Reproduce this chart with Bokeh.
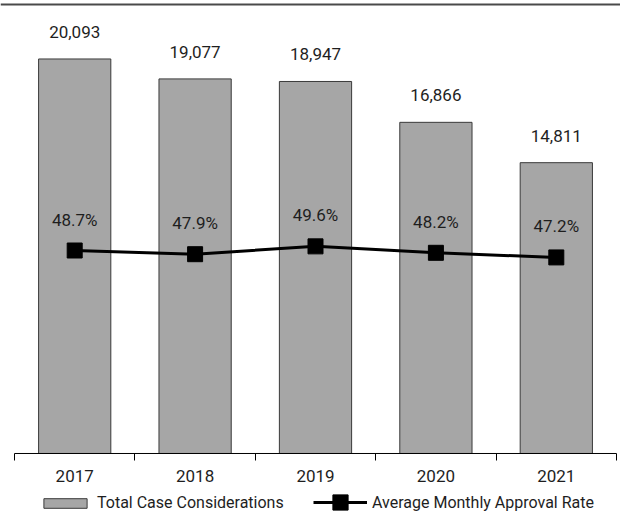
from bokeh.plotting import figure
from bokeh.models import (Range1d, LinearAxis, FixedTicker, Span, Legend, LegendItem,
                          ColumnDataSource)
from bokeh.core.properties import value
from bokeh.embed import file_html
from bokeh.resources import INLINE

years = ["2017", "2018", "2019", "2020", "2021"]
cases = [20093, 19077, 18947, 16866, 14811]
approval = [48.7, 47.9, 49.6, 48.2, 47.2]
case_labels = ["20,093", "19,077", "18,947", "16,866", "14,811"]
approval_labels = ["48.7%", "47.9%", "49.6%", "48.2%", "47.2%"]

FONT = "Roboto"
TXT = "#1e1e1e"
pos = list(range(len(years)))
bounds = [i - 0.5 for i in pos] + [pos[-1] + 0.5]

src = ColumnDataSource(dict(x=pos, cases=cases, approval=approval,
                            clab=case_labels, alab=approval_labels))

p = figure(width=620, height=514, output_backend="svg", toolbar_location=None,
           x_range=Range1d(-0.6163, 4.5332), y_range=Range1d(-3107, 23071),
           x_axis_location=None, y_axis_location=None,
           min_border_left=0, min_border_right=0, min_border_top=0, min_border_bottom=0)
p.extra_y_ranges = {"pct": Range1d(-8.69, 103.05)}
p.grid.visible = False
p.outline_line_color = None
p.background_fill_color = "white"

bars = p.vbar(x="x", top="cases", width=0.6, source=src,
              fill_color="#a6a6a6", line_color="#3a3a3a", line_width=1)

p.text(x="x", y="cases", text="clab", source=src, y_offset=-27,
       text_align="center", text_baseline="middle", text_font=value(FONT),
       text_font_size="17px", text_color=TXT)

line_r = p.line(x="x", y="approval", source=src, y_range_name="pct",
                line_color="black", line_width=3)
mark_r = p.scatter(x="x", y="approval", source=src, y_range_name="pct",
                   marker="square", size=15, fill_color="black", line_color="black")

p.text(x="x", y="approval", text="alab", source=src, y_range_name="pct", y_offset=-31,
       text_align="center", text_baseline="middle", text_font=value(FONT),
       text_font_size="17px", text_color=TXT)

# top rule
p.add_layout(Span(location=510, location_units="screen", dimension="width",
                  line_color="#4a4a4a", line_width=2))

# category axis line (between outer category boundaries)
p.segment(x0=[bounds[0]], y0=[0], x1=[bounds[-1]], y1=[0], line_color="black", line_width=1)

xaxis = LinearAxis(ticker=FixedTicker(ticks=pos, minor_ticks=bounds),
                   major_label_overrides={i: y for i, y in enumerate(years)},
                   fixed_location=0)
xaxis.axis_line_color = None
xaxis.major_tick_out = 0
xaxis.major_tick_in = 0
xaxis.minor_tick_out = 7
xaxis.minor_tick_in = 0
xaxis.minor_tick_line_color = "black"
xaxis.major_label_text_font = FONT
xaxis.major_label_text_font_size = "17px"
xaxis.major_label_text_color = TXT
xaxis.major_label_standoff = 10
p.add_layout(xaxis, "below")

common = dict(orientation="horizontal", label_standoff=5, padding=0, margin=0,
              border_line_color=None, background_fill_alpha=0,
              label_text_font=FONT, label_text_font_size="16px", label_text_color=TXT)
leg1 = Legend(items=[LegendItem(label="Total Case Considerations", renderers=[bars])],
              location=(38, 2), glyph_width=54, glyph_height=12, **common)
leg2 = Legend(items=[LegendItem(label="Average Monthly Approval Rate", renderers=[line_r, mark_r])],
              location=(313, -7), glyph_width=54, glyph_height=38, **common)
p.add_layout(leg1, "center")
p.add_layout(leg2, "center")

open("out.html", "w").write(file_html(p, INLINE))
